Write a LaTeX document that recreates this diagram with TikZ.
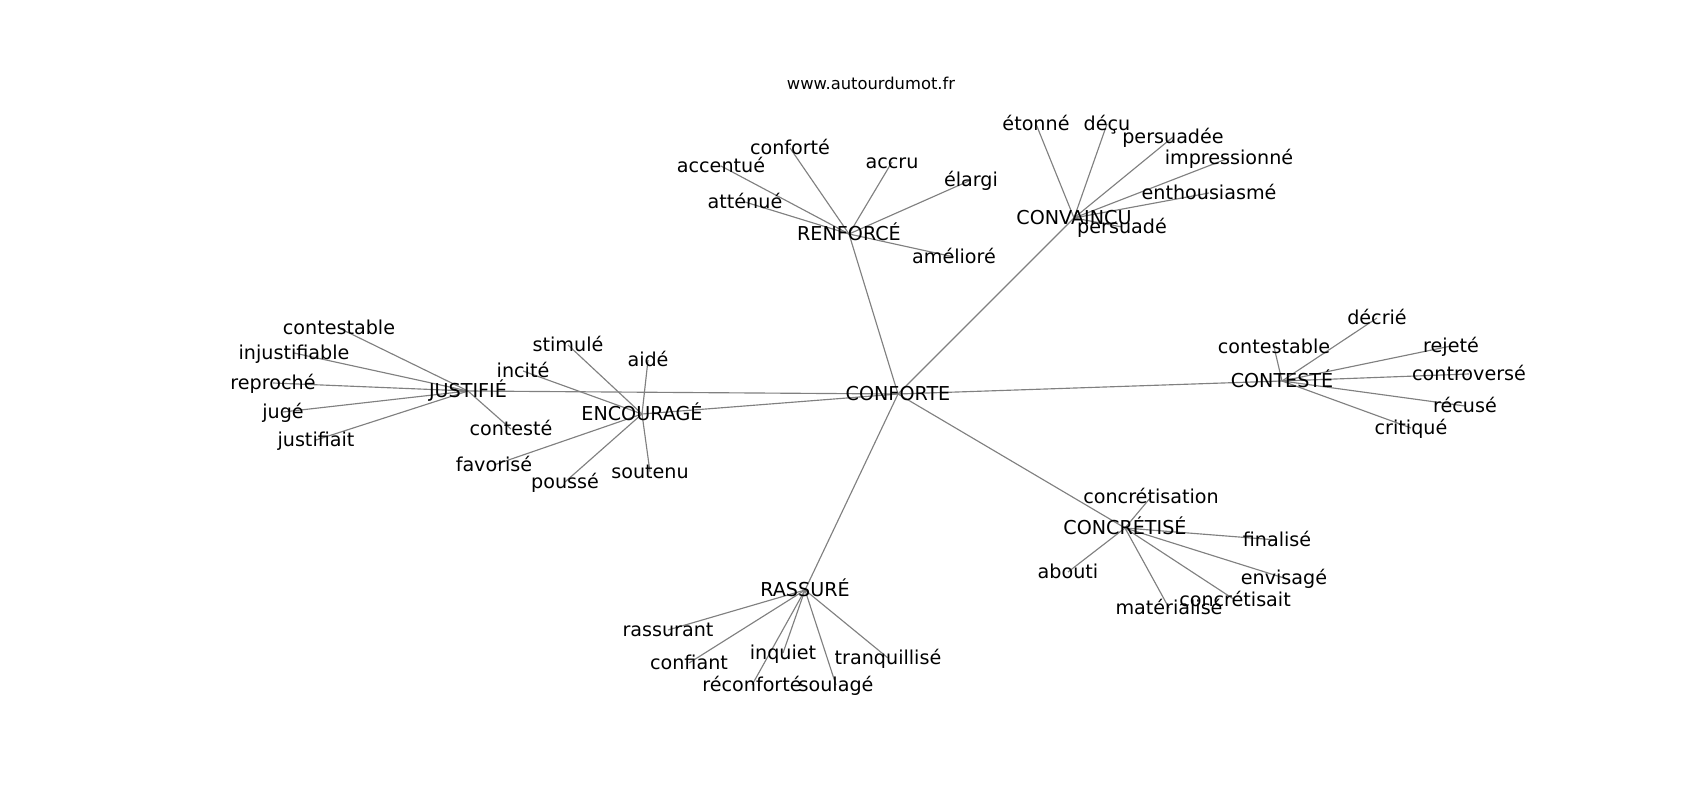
\documentclass[tikz,border=0pt]{standalone}
\usepackage{fontspec}
\setmainfont{DejaVu Sans}
\usetikzlibrary{backgrounds}
\begin{document}
\begin{tikzpicture}[x=0.02cm,y=-0.02cm,
    word/.style={inner sep=0pt,text height=0.96em,text depth=0.24em,font=\fontsize{10.9}{12}\selectfont},
    edge/.style={draw=gray,line width=0.65pt}]
    \useasboundingbox (0,0) rectangle (1700,800);
    %% Title
    \node[word,font=\fontsize{9.3}{11}\selectfont] (site) at (871,83) {www.autourdumot.fr};
    %% Hubs
    \node[word] (conforte) at (898,394) {CONFORTE};
    \node[word] (renforce) at (849,234) {RENFORCÉ};
    \node[word] (convaincu) at (1074,218) {CONVAINCU};
    \node[word] (justifie) at (468,391) {JUSTIFIÉ};
    \node[word] (encourage) at (642,414) {ENCOURAGÉ};
    \node[word] (conteste) at (1282,381) {CONTESTÉ};
    \node[word] (concretise) at (1125,528) {CONCRÉTISÉ};
    \node[word] (rassure) at (805,590) {RASSURÉ};
    %% Words round RENFORCÉ
    \node[word] (r1) at (790,148) {conforté};
    \node[word] (r2) at (721,166) {accentué};
    \node[word] (r3) at (892,162) {accru};
    \node[word] (r4) at (971,180) {élargi};
    \node[word] (r5) at (745,202) {atténué};
    \node[word] (r6) at (954,257) {amélioré};
    %% Words round CONVAINCU
    \node[word] (v1) at (1036,124) {étonné};
    \node[word] (v2) at (1107,124) {déçu};
    \node[word] (v3) at (1173,137) {persuadée};
    \node[word] (v4) at (1229,158) {impressionné};
    \node[word] (v5) at (1209,193) {enthousiasmé};
    \node[word] (v6) at (1122,227) {persuadé};
    %% Words round JUSTIFIÉ
    \node[word] (j1) at (339,328) {contestable};
    \node[word] (j2) at (294,353) {injustifiable};
    \node[word] (j3) at (273,383) {reproché};
    \node[word] (j4) at (283,412) {jugé};
    \node[word] (j5) at (316,440) {justifiait};
    \node[word] (j6) at (511,429) {contesté};
    %% Words round ENCOURAGÉ
    \node[word] (e1) at (568,345) {stimulé};
    \node[word] (e2) at (523,371) {incité};
    \node[word] (e3) at (648,360) {aidé};
    \node[word] (e4) at (494,465) {favorisé};
    \node[word] (e5) at (565,482) {poussé};
    \node[word] (e6) at (650,472) {soutenu};
    %% Words round CONTESTÉ
    \node[word] (c1) at (1274,347) {contestable};
    \node[word] (c2) at (1377,318) {décrié};
    \node[word] (c3) at (1451,346) {rejeté};
    \node[word] (c4) at (1469,374) {controversé};
    \node[word] (c5) at (1465,406) {récusé};
    \node[word] (c6) at (1411,428) {critiqué};
    %% Words round CONCRÉTISÉ
    \node[word] (k1) at (1151,497) {concrétisation};
    \node[word] (k2) at (1068,572) {abouti};
    \node[word] (k3) at (1277,540) {finalisé};
    \node[word] (k4) at (1284,578) {envisagé};
    \node[word] (k5) at (1235,600) {concrétisait};
    \node[word] (k6) at (1169,608) {matérialisé};
    %% Words round RASSURÉ
    \node[word] (s1) at (668,630) {rassurant};
    \node[word] (s2) at (689,663) {confiant};
    \node[word] (s3) at (783,653) {inquiet};
    \node[word] (s4) at (888,658) {tranquillisé};
    \node[word] (s5) at (752,685) {réconforté};
    \node[word] (s6) at (836,685) {soulagé};
    %% Links
    \begin{scope}[on background layer]
        \foreach \h in {renforce,convaincu,justifie,encourage,conteste,concretise,rassure}
            \draw[edge] (conforte.center) -- (\h.center);
        \foreach \w in {r1,r2,r3,r4,r5,r6} \draw[edge] (renforce.center) -- (\w.center);
        \foreach \w in {v1,v2,v3,v4,v5,v6} \draw[edge] (convaincu.center) -- (\w.center);
        \foreach \w in {j1,j2,j3,j4,j5,j6} \draw[edge] (justifie.center) -- (\w.center);
        \foreach \w in {e1,e2,e3,e4,e5,e6} \draw[edge] (encourage.center) -- (\w.center);
        \foreach \w in {c1,c2,c3,c4,c5,c6} \draw[edge] (conteste.center) -- (\w.center);
        \foreach \w in {k1,k2,k3,k4,k5,k6} \draw[edge] (concretise.center) -- (\w.center);
        \foreach \w in {s1,s2,s3,s4,s5,s6} \draw[edge] (rassure.center) -- (\w.center);
    \end{scope}
\end{tikzpicture}
\end{document}
